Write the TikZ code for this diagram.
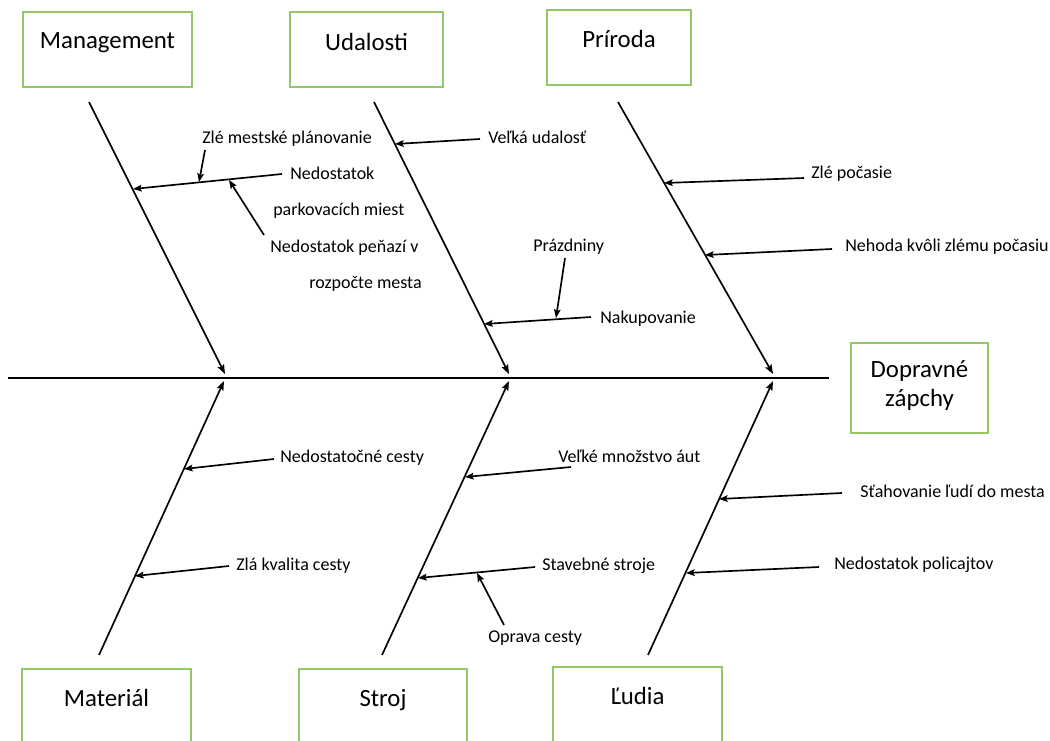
\documentclass[tikz,border=0pt]{standalone}
\usepackage{fontspec}
\setmainfont{Carlito}
\usetikzlibrary{arrows.meta}
\definecolor{boxgreen}{RGB}{146,200,104}
\tikzset{
  catbox/.style={draw=boxgreen, line width=1.1pt, inner sep=0pt, fill=none},
  cattext/.style={inner sep=0pt, font=\fontsize{18.6pt}{21.75pt}\selectfont, text height=0.9em, text depth=0.06em},
  lbl/.style={inner sep=0pt, anchor=west, font=\fontsize{13.5pt}{16pt}\selectfont, text height=0.9em, text depth=0.05em},
  spine/.style={line width=1.6pt, black},
  bone/.style={line width=1.25pt, black, -{Stealth[length=7pt,width=5.2pt,inset=1.2pt]}},
  sub/.style={line width=1.25pt, black, -{Stealth[length=6.5pt,width=5pt,inset=1.2pt]}}
}
\begin{document}
\begin{tikzpicture}[x=0.75pt,y=-0.75pt]
\useasboundingbox (0,0) rectangle (1050,740);
\clip (0,0) rectangle (1050,740);
\fill[white] (0,0) rectangle (1050,740);

% category boxes
\node[catbox, minimum width=126.75pt, minimum height=56.25pt] (mgmtbox) at (107.5,49.5) {};
\node[cattext] (mgmt) at (107.5,43) {Management};
\node[catbox, minimum width=114.75pt, minimum height=56.25pt] (udalbox) at (366.5,49.5) {};
\node[cattext] (udal) at (366.5,45) {Udalosti};
\node[catbox, minimum width=108pt, minimum height=56.25pt] (prirbox) at (619,47.5) {};
\node[cattext] (prir) at (619,42) {Príroda};
\node[catbox, minimum width=102.75pt, minimum height=67.5pt] (effbox) at (919.5,388) {};
\node[cattext, align=center, text height=, text depth=] (eff) at (919.5,386) {Dopravné\\zápchy};
\node[catbox, minimum width=126.75pt, minimum height=68.25pt] (matbox) at (106.5,714.5) {};
\node[cattext] (mat) at (106.5,701) {Materiál};
\node[catbox, minimum width=126pt, minimum height=68.25pt] (strbox) at (383,714.5) {};
\node[cattext] (str) at (383,701) {Stroj};
\node[catbox, minimum width=126.75pt, minimum height=69.75pt] (ludbox) at (637.5,713.5) {};
\node[cattext] (lud) at (637.5,699) {Ľudia};

% spine
\coordinate (sp0) at (8,378);
\coordinate (sp1) at (829,378);
\draw[spine] (sp0) -- (sp1);

% bones
\coordinate (bm0) at (89,102);  \coordinate (bm1) at (225,374);
\coordinate (bu0) at (374,102); \coordinate (bu1) at (509,374);
\coordinate (bp0) at (618,102); \coordinate (bp1) at (773,374);
\coordinate (bl0) at (99,655);  \coordinate (bl1) at (224,381);
\coordinate (bs0) at (382,655); \coordinate (bs1) at (509,381);
\coordinate (bd0) at (648,655); \coordinate (bd1) at (773,381);
\draw[bone] (bm0) -- (bm1);
\draw[bone] (bu0) -- (bu1);
\draw[bone] (bp0) -- (bp1);
\draw[bone] (bl0) -- (bl1);
\draw[bone] (bs0) -- (bs1);
\draw[bone] (bd0) -- (bd1);

% labels
\node[lbl] (zlemest) at (202,138) {Zlé mestské plánovanie};
\node[lbl] (nedost) at (290,174) {Nedostatok};
\node[lbl] (parkov) at (273,210) {parkovacích miest};
\node[lbl] (penazi) at (270,247) {Nedostatok peňazí v};
\node[lbl] (rozpocte) at (309,283) {rozpočte mesta};
\node[lbl] (velka) at (488,138) {Veľká udalosť};
\node[lbl] (prazd) at (533,246) {Prázdniny};
\node[lbl] (nakup) at (600,318) {Nakupovanie};
\node[lbl] (zlepoc) at (811,173) {Zlé počasie};
\node[lbl] (nehoda) at (845,246) {Nehoda kvôli zlému počasiu};
\node[lbl] (nedcesty) at (280,457) {Nedostatočné cesty};
\node[lbl] (zlakval) at (236,565) {Zlá kvalita cesty};
\node[lbl] (velke) at (558,457) {Veľké množstvo áut};
\node[lbl] (staveb) at (542,565) {Stavebné stroje};
\node[lbl] (oprava) at (488,637) {Oprava cesty};
\node[lbl] (stahov) at (860,492) {Sťahovanie ľudí do mesta};
\node[lbl] (policaj) at (834,564) {Nedostatok policajtov};

% sub-cause arrows
\coordinate (a1t) at (282,174); \coordinate (a1h) at (133,189);
\coordinate (a2t) at (205,150); \coordinate (a2h) at (199,182);
\coordinate (a3t) at (264,235); \coordinate (a3h) at (229,180);
\coordinate (a4t) at (480,139); \coordinate (a4h) at (395,144);
\coordinate (a5t) at (565,258); \coordinate (a5h) at (556,318);
\coordinate (a6t) at (591,317); \coordinate (a6h) at (484,324);
\coordinate (a7t) at (804,178); \coordinate (a7h) at (664,183);
\coordinate (a8t) at (832,249); \coordinate (a8h) at (705,255);
\coordinate (b1t) at (274,459); \coordinate (b1h) at (184,469);
\coordinate (b2t) at (229,566); \coordinate (b2h) at (135,576);
\coordinate (b3t) at (571,467); \coordinate (b3h) at (465,477);
\coordinate (b4t) at (535,567); \coordinate (b4h) at (418,578);
\coordinate (b5t) at (504,625); \coordinate (b5h) at (477,573);
\coordinate (b6t) at (842,493); \coordinate (b6h) at (719,499);
\coordinate (b7t) at (819,567); \coordinate (b7h) at (686,573);
\foreach \a in {a1,a2,a3,a4,a5,a6,a7,a8,b1,b2,b3,b4,b5,b6,b7}
  \draw[sub] (\a t) -- (\a h);
\end{tikzpicture}
\end{document}
